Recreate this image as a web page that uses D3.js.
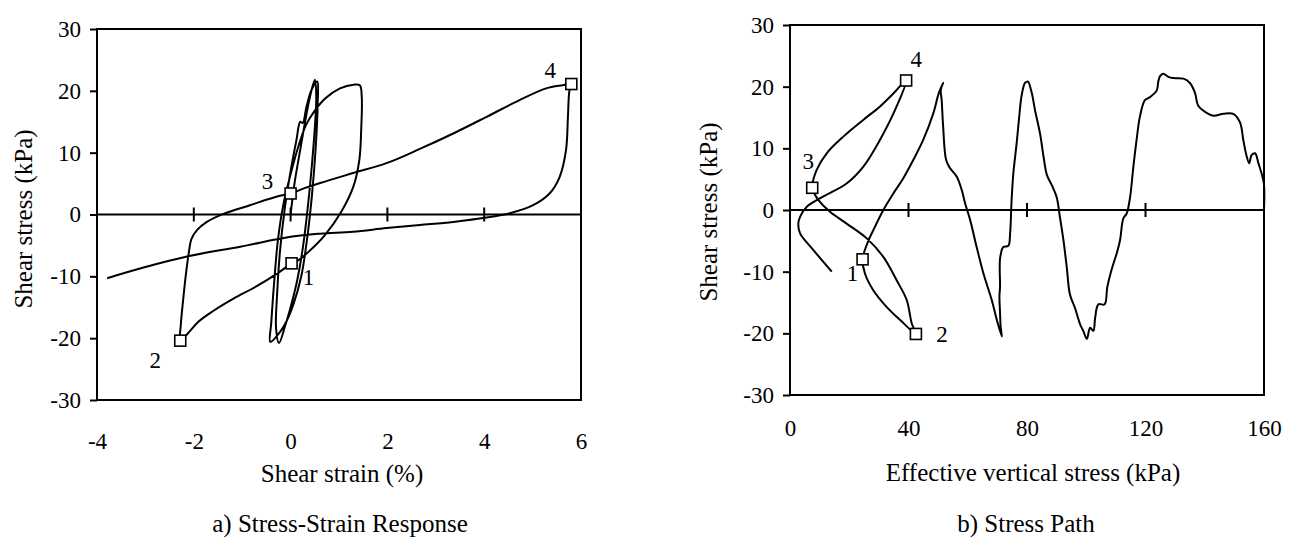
<!DOCTYPE html>
<html>
<head>
<meta charset="utf-8">
<title>Stress-strain response and stress path</title>
<script src="https://cdn.jsdelivr.net/npm/d3@7"></script>
<style>
  body { margin: 0; background: #ffffff; }
  svg { display: block; }
  text { font-family: "Liberation Serif", "Times New Roman", serif; fill: #000; }
  .tick text { font-size: 23px; }
  .axis-title { font-size: 25px; }
  .caption { font-size: 25px; }
  .pt-label { font-size: 23px; }
  .curve { fill: none; stroke: #000; stroke-width: 2; stroke-linejoin: round; }
  .frame { fill: none; stroke: #000; stroke-width: 2; }
  .zero-line, .cross-tick { stroke: #000; stroke-width: 2; }
  .marker { fill: #fff; stroke: #000; stroke-width: 1.6; }
</style>
</head>
<body>
<svg id="chart" width="1292" height="537"></svg>
<script>
// ---- data: a) stress-strain response (shear strain %, shear stress kPa), in loading order
var strainPct = [
  0.00, 0.08, 0.20, 0.30, 0.40, 0.50,
  0.53, 0.50, 0.44, 0.36, 0.26, 0.14, 0.00, -0.12, -0.24,
  -0.30, -0.28, -0.22, -0.12, 0.00, 0.12, 0.20, 0.25, 0.33, 0.44, 0.55,
  0.56, 0.52, 0.44, 0.34, 0.22, 0.06, -0.12, -0.30, -0.42,
  -0.40, -0.34, -0.26, -0.14, 0.00, 0.16, 0.32, 0.50, 0.72, 1.02, 1.30, 1.43,
  1.47, 1.46, 1.42, 1.30, 1.05, 0.70, 0.36, 0.16, 0.02,
  -0.25, -0.70, -1.18, -1.60, -1.90, -2.12, -2.28,
  -2.27, -2.22, -2.16, -2.10, -2.05, -1.93, -1.73, -1.39, -0.84, -0.28, 0.00,
  0.30, 0.61, 1.29, 1.98, 2.67, 3.36, 4.05, 4.73, 5.28, 5.62, 5.80,
  5.76, 5.73, 5.69, 5.56, 5.35, 5.01, 4.53, 4.05, 3.36, 2.67, 1.98, 1.29, 0.61, 0.00, -1.04, -2.14, -3.00, -3.79
];
var strainStress = [
  0.0, 5.0, 10.5, 15.0, 19.0, 21.8,
  19.0, 14.0, 8.0, 1.5, -5.0, -10.5, -15.0, -18.2, -20.8,
  -18.5, -13.0, -6.0, 1.0, 7.0, 12.0, 15.0, 14.8, 17.5, 20.3, 21.5,
  18.0, 11.0, 3.0, -4.0, -10.0, -14.5, -17.8, -19.8, -20.6,
  -17.5, -11.0, -4.0, 2.0, 6.5, 11.0, 14.5, 16.8, 18.8, 20.4, 21.0, 20.9,
  19.0, 14.0, 8.8, 4.6, 0.5, -3.4, -6.1, -7.4, -7.9,
  -9.4, -11.6, -13.6, -15.6, -17.3, -19.2, -20.4,
  -18.0, -13.8, -9.5, -6.0, -4.0, -2.5, -1.2, 0.1, 1.5, 2.9, 3.4,
  4.3, 5.1, 6.7, 8.3, 10.6, 13.1, 15.8, 18.5, 20.4, 20.9, 21.1,
  20.0, 15.8, 10.4, 6.1, 3.4, 1.5, 0.2, -0.5, -1.2, -1.7, -2.2, -2.8, -3.1, -3.6, -5.2, -6.8, -8.5, -10.3
];
var strainMarkX = [0.02, -2.28, 0.00, 5.80];
var strainMarkY = [-7.9, -20.4, 3.4, 21.1];

// ---- data: b) stress path (effective vertical stress kPa, shear stress kPa), in loading order
var pathSigma = [
  160.0, 160.0, 159.2, 158.1, 157.0, 155.8, 155.0, 153.9, 153.0, 151.9, 149.6, 146.3, 142.9, 140.1,
  137.8, 136.7, 135.0, 132.8, 129.4, 127.7, 126.0, 124.9, 124.3, 123.8, 121.5, 119.8, 118.1, 117.0,
  115.9, 114.8, 113.7, 112.5, 111.4, 110.3, 108.6, 107.1, 106.2, 104.1, 103.0, 102.4, 101.3, 100.2,
  99.0, 97.9, 96.2, 94.5, 93.4, 92.3, 91.1, 90.0, 88.3, 86.7, 85.6, 84.4, 82.7, 81.6, 80.4, 80.0,
  79.3, 78.2, 77.4, 76.5, 75.4, 74.8, 74.3, 73.7, 72.0, 70.9, 70.9, 70.7, 70.9, 71.1, 71.5,
  69.8, 68.1, 65.3, 63.0, 60.8, 59.1, 58.0, 56.3, 54.0, 52.7, 51.7, 51.2, 50.9, 51.7,
  50.2, 48.4, 45.0, 41.6, 38.2, 34.9, 31.5, 28.7, 26.1, 24.5,
  25.3, 28.1, 32.6, 37.1, 42.5,
  41.1, 39.4, 36.0, 31.5, 25.9, 19.1, 13.5, 9.6, 7.9, 7.5,
  9.0, 12.4, 18.0, 24.7, 30.4, 34.9, 39.2,
  36.0, 30.4, 24.7, 19.1, 11.3, 5.6, 3.4, 2.8, 3.4, 7.9, 14.1
];
var pathTau = [
  0.0, 4.1, 5.9, 7.6, 9.2, 8.9, 7.6, 9.2, 11.4, 14.2, 15.6, 15.6, 15.3, 15.9,
  16.9, 19.0, 20.6, 21.3, 21.4, 21.6, 22.1, 21.7, 20.8, 19.4, 18.3, 17.8, 15.1, 11.4,
  7.0, 2.1, -0.5, -1.4, -4.9, -7.0, -9.6, -12.5, -15.3, -15.3, -17.5, -19.6, -19.1, -20.9,
  -19.6, -18.5, -15.9, -13.7, -9.2, -4.9, -1.1, 2.1, 4.1, 5.7, 8.6, 12.4, 16.2, 19.0, 20.8, 20.8,
  20.6, 18.6, 15.3, 10.8, 6.0, 1.6, -3.8, -5.8, -6.0, -7.9, -12.4, -14.0, -16.7, -18.9, -20.5,
  -17.8, -14.6, -10.3, -6.0, -1.6, 1.1, 3.2, 5.4, 6.8, 8.1, 13.5, 17.8, 19.5, 20.6,
  18.9, 15.7, 11.4, 8.1, 5.1, 2.7, 0.0, -2.7, -5.4, -8.0,
  -10.3, -13.0, -15.7, -17.8, -20.1,
  -18.4, -14.6, -11.4, -7.6, -4.6, -2.2, -0.3, 1.6, 3.0, 3.6,
  6.5, 9.2, 11.9, 14.6, 16.8, 18.9, 21.0,
  16.8, 11.4, 7.0, 4.3, 2.2, 0.5, -1.1, -2.2, -3.8, -6.5, -10.0
];
var pathMarkX = [24.5, 42.5, 7.5, 39.2];
var pathMarkY = [-8.0, -20.1, 3.6, 21.0];

// ---- shared labels and ticks
var markNames = ["1", "2", "3", "4"];
var stressTicks = [-30, -20, -10, 0, 10, 20, 30];
var strainTicks = [-4, -2, 0, 2, 4, 6];
var sigmaTicks = [0, 40, 80, 120, 160];

var serif = '"Liberation Serif", "Times New Roman", serif';

// plain hyphen for negative numbers, as in the original figure
function plainNum(d) {
  return String(d);
} // end function plainNum

/*
  NAME: drawPanel
  DESCRIPTION: draws one framed panel with zero line, curve, square markers and numbered labels
*/
function drawPanel(svg, cfg) {
  var g = svg.append("g");
  var x = d3.scaleLinear().domain(cfg.xDomain).range([cfg.left, cfg.right]);
  var y = d3.scaleLinear().domain([-30, 30]).range([cfg.bottom, cfg.top]);

  // plot area border
  g.append("rect")
    .attr("class", "frame")
    .attr("x", cfg.left)
    .attr("y", cfg.top)
    .attr("width", cfg.right - cfg.left)
    .attr("height", cfg.bottom - cfg.top);

  // y axis with outside ticks
  var yAxis = g.append("g")
    .attr("transform", "translate(" + cfg.left + ",0)")
    .call(d3.axisLeft(y).tickValues(stressTicks).tickSize(7).tickSizeOuter(0).tickPadding(9).tickFormat(plainNum));
  yAxis.attr("font-family", serif).attr("font-size", 23);
  yAxis.select(".domain").remove();
  yAxis.selectAll(".tick line").attr("stroke-width", 2);

  // x tick labels along the bottom
  var xAxis = g.append("g")
    .attr("transform", "translate(0," + cfg.bottom + ")")
    .call(d3.axisBottom(x).tickValues(cfg.xTicks).tickSize(0).tickPadding(cfg.xPad).tickFormat(plainNum));
  xAxis.attr("font-family", serif).attr("font-size", 23);
  xAxis.select(".domain").remove();

  // horizontal axis at zero stress with cross ticks
  g.append("line")
    .attr("class", "zero-line")
    .attr("x1", cfg.left).attr("x2", cfg.right)
    .attr("y1", y(0)).attr("y2", y(0));

  g.selectAll(".cross-tick")
    .data(cfg.xTicks.slice(1, -1))
    .enter()
    .append("line")
    .attr("class", "cross-tick")
    .attr("x1", function (d) { return x(d); })
    .attr("x2", function (d) { return x(d); })
    .attr("y1", y(0) - 7)
    .attr("y2", y(0) + 7);

  // the measured curve
  var pts = cfg.xs.map(function (d, i) { return [d, cfg.ys[i]]; });
  var line = d3.line()
    .x(function (d) { return x(d[0]); })
    .y(function (d) { return y(d[1]); })
    .curve(d3.curveCatmullRom.alpha(0.5));

  g.append("path")
    .attr("class", "curve")
    .attr("d", line(pts));

  // open square markers
  var marks = cfg.mx.map(function (d, i) { return [d, cfg.my[i]]; });
  g.selectAll(".marker")
    .data(marks)
    .enter()
    .append("rect")
    .attr("class", "marker")
    .attr("x", function (d) { return x(d[0]) - 5.5; })
    .attr("y", function (d) { return y(d[1]) - 5.5; })
    .attr("width", 11)
    .attr("height", 11);

  // numbered labels next to markers
  g.selectAll(".pt-label")
    .data(marks)
    .enter()
    .append("text")
    .attr("class", "pt-label")
    .attr("x", function (d, i) { return x(d[0]) + cfg.labelOffset[i][0]; })
    .attr("y", function (d, i) { return y(d[1]) + cfg.labelOffset[i][1]; })
    .attr("text-anchor", "middle")
    .attr("dominant-baseline", "central")
    .text(function (d, i) { return markNames[i]; });

  // axis titles and caption
  g.append("text")
    .attr("class", "axis-title")
    .attr("transform", "translate(" + cfg.yTitle[0] + "," + cfg.yTitle[1] + ") rotate(-90)")
    .attr("text-anchor", "middle")
    .attr("dominant-baseline", "central")
    .text("Shear stress (kPa)");

  var mid = (cfg.left + cfg.right) / 2;
  g.append("text")
    .attr("class", "axis-title")
    .attr("x", mid + cfg.titleShift)
    .attr("y", cfg.xTitleY)
    .attr("text-anchor", "middle")
    .attr("dominant-baseline", "central")
    .text(cfg.xTitle);

  g.append("text")
    .attr("class", "caption")
    .attr("x", mid + cfg.captionShift)
    .attr("y", cfg.captionY)
    .attr("text-anchor", "middle")
    .attr("dominant-baseline", "central")
    .text(cfg.caption);

  return;
} // end function drawPanel

var svg = d3.select("#chart");

drawPanel(svg, {
  left: 97, right: 581, top: 29, bottom: 400,
  xDomain: [-4, 6], xTicks: strainTicks, xPad: 33,
  xs: strainPct, ys: strainStress, mx: strainMarkX, my: strainMarkY,
  labelOffset: [[17, 14], [-25, 20], [-23, -12], [-21, -14]],
  yTitle: [23, 219],
  xTitle: "Shear strain (%)", xTitleY: 473, titleShift: 3,
  caption: "a) Stress-Strain Response", captionY: 523, captionShift: 1
});

drawPanel(svg, {
  left: 790, right: 1264, top: 25, bottom: 395,
  xDomain: [0, 160], xTicks: sigmaTicks, xPad: 25,
  xs: pathSigma, ys: pathTau, mx: pathMarkX, my: pathMarkY,
  labelOffset: [[-10, 14], [26, 1], [-4, -26], [10, -21]],
  yTitle: [708, 212],
  xTitle: "Effective vertical stress (kPa)", xTitleY: 472, titleShift: 6,
  caption: "b) Stress Path", captionY: 523, captionShift: -1
});
</script>
</body>
</html>
